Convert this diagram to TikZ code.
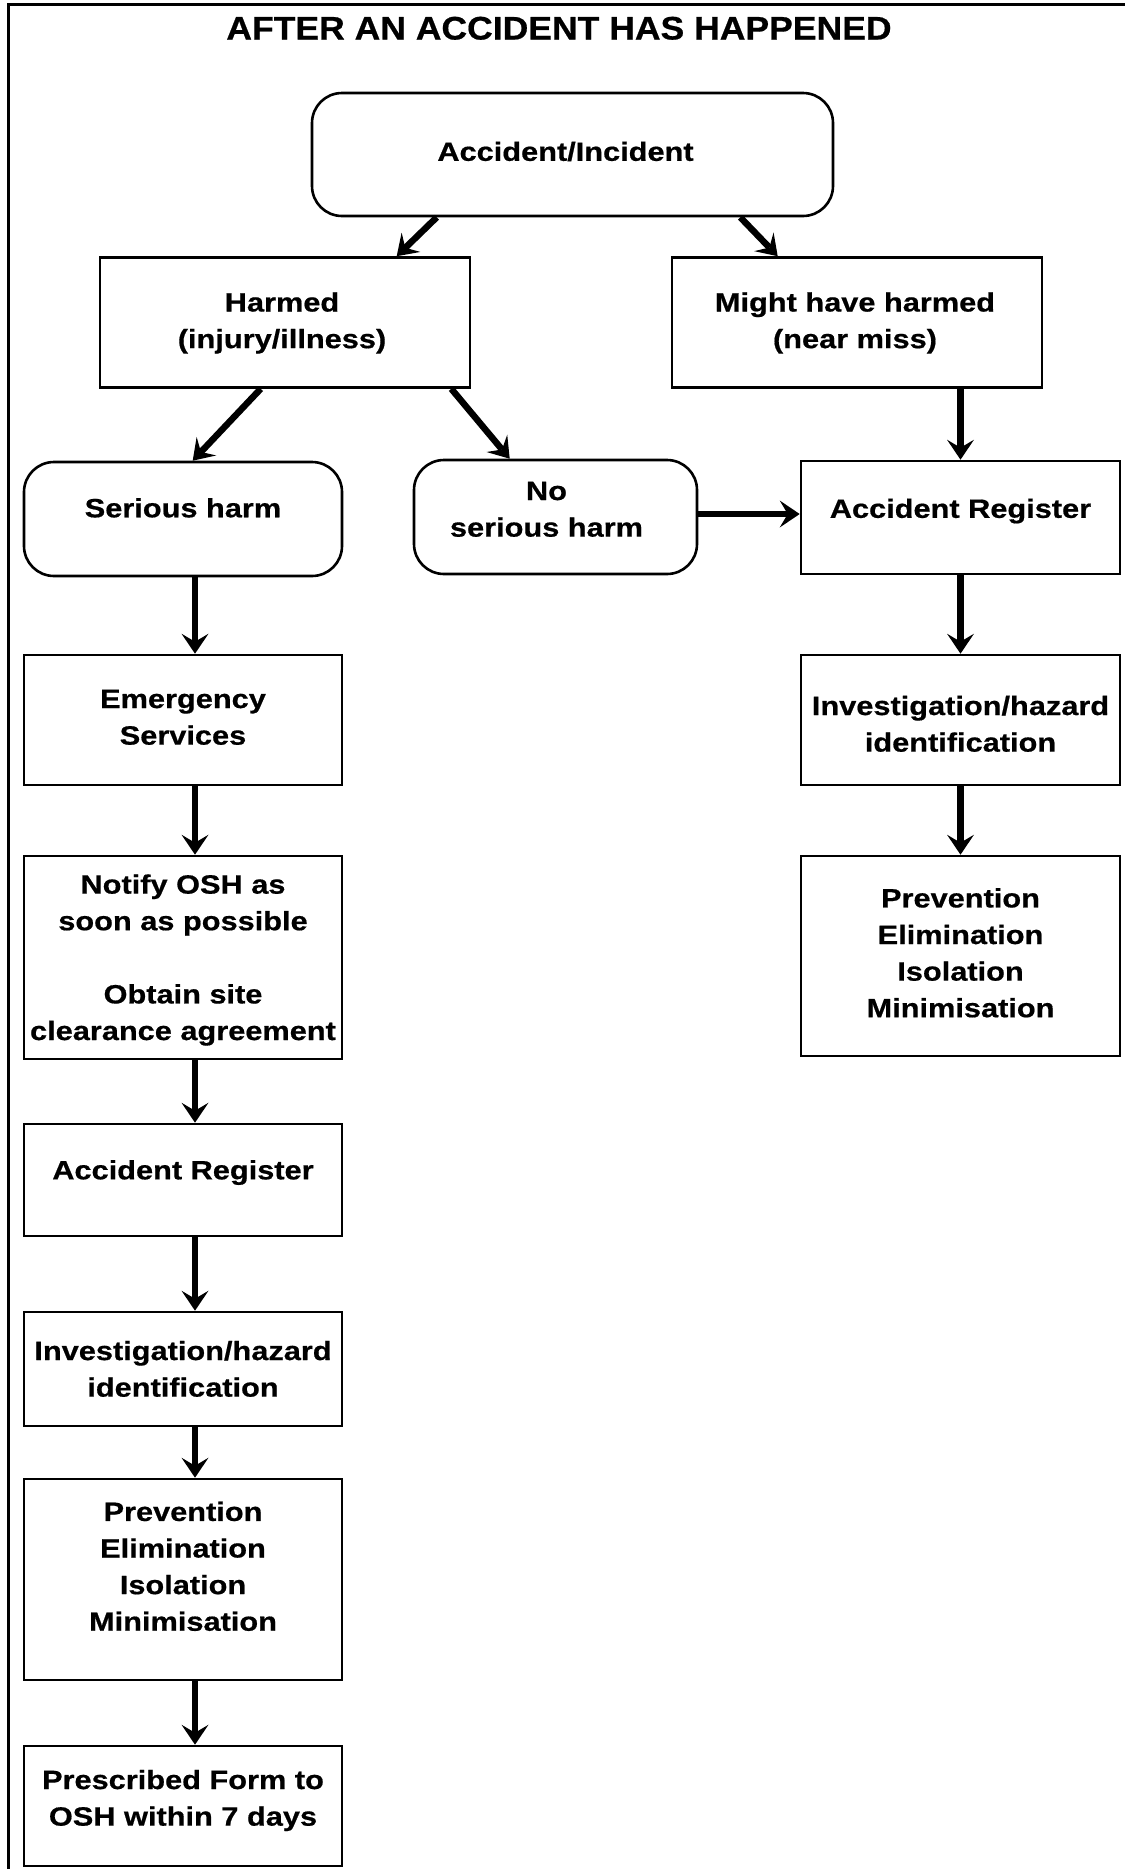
\documentclass[tikz,border=0pt]{standalone}
\usepackage{fontspec}
\setmainfont{Liberation Sans}[FakeStretch=1.16, BoldFeatures={FakeBold=0.6}]
\newfontfamily\titlefont{Liberation Sans}[FakeStretch=1.09, BoldFeatures={FakeBold=0.6}]
\usetikzlibrary{arrows.meta}
\newcommand\bxt[2]{\raisebox{#1}[\height][\depth]{\begin{tabular}{@{}c@{}}#2\end{tabular}}}
\begin{document}
\begin{tikzpicture}[x=1pt,y=-1pt,
  every node/.style={inner sep=0pt, font=\fontsize{26.5}{36.6}\selectfont\bfseries},
  sq/.style={draw, line width=2.6pt, rectangle},
  rnd/.style={draw, line width=2.6pt, rectangle, rounded corners=30pt},
  arr/.style={line width=6.5pt, -{Stealth[length=20pt,width=27pt,inset=8pt,line width=0pt]}},
  frame/.style={line width=3pt},
  title/.style={font=\titlefont\fontsize{32.6}{38}\selectfont\bfseries, anchor=base}
]
\useasboundingbox (0,0) rectangle (1125,1869);
\draw[frame] (8,1869) -- (8,4) -- (1125,4);

\node[title] (ttl) at (559,39.5) {AFTER AN ACCIDENT HAS HAPPENED};

\node[rnd, minimum width=521pt, minimum height=123pt] (acc) at (572.5,154.5) {\hspace*{-14pt}\bxt{1pt}{Accident/Incident}};
\node[sq, minimum width=370pt, minimum height=130pt] (harmed) at (285,322.5) {\hspace*{-6pt}\bxt{0pt}{Harmed\\(injury/illness)}};
\node[sq, minimum width=370pt, minimum height=130pt] (might) at (857,322.5) {\hspace*{-4pt}\bxt{0pt}{Might have harmed\\(near miss)}};
\node[rnd, minimum width=318pt, minimum height=114pt] (serious) at (183,519) {\bxt{9pt}{Serious harm}};
\node[rnd, minimum width=283pt, minimum height=114pt] (noser) at (555.5,517) {\hspace*{-18pt}\bxt{6pt}{No\\serious harm}};
\node[sq, minimum width=319pt, minimum height=113pt] (ar2) at (960.5,517.5) {\bxt{7pt}{Accident Register}};
\node[sq, minimum width=318pt, minimum height=130pt] (emerg) at (183,720) {\bxt{1pt}{Emergency\\Services}};
\node[sq, minimum width=319pt, minimum height=130pt] (inv2) at (960.5,720) {\bxt{-6pt}{Investigation/hazard\\identification}};
\node[sq, minimum width=319pt, minimum height=200pt] (prev2) at (960.5,956) {\bxt{1pt}{Prevention\\Elimination\\Isolation\\Minimisation}};
\node[sq, minimum width=318pt, minimum height=203pt] (notify) at (183,957.5) {\bxt{-2pt}{Notify OSH as\\soon as possible\\ \\Obtain site\\clearance agreement}};
\node[sq, minimum width=318pt, minimum height=112pt] (ar1) at (183,1180) {\bxt{8pt}{Accident Register}};
\node[sq, minimum width=318pt, minimum height=114pt] (inv1) at (183,1369) {\bxt{-2pt}{Investigation/hazard\\identification}};
\node[sq, minimum width=318pt, minimum height=201pt] (prev1) at (183,1579.5) {\bxt{11pt}{Prevention\\Elimination\\Isolation\\Minimisation}};
\node[sq, minimum width=318pt, minimum height=120pt] (presc) at (183,1806) {\bxt{6pt}{Prescribed Form to\\OSH within 7 days}};

\draw[arr] ([xshift=126pt]acc.south west) -- ([xshift=298pt]harmed.north west);
\draw[arr] ([xshift=-94pt]acc.south east) -- ([xshift=107pt]might.north west);
\draw[arr] ([xshift=162pt]harmed.south west) -- ([xshift=170pt]serious.north west);
\draw[arr] ([xshift=-20pt]harmed.south east) -- ([xshift=97pt]noser.north west);
\draw[arr] (might.south -| ar2.north) -- (ar2.north);
\draw[arr] ([yshift=3pt]noser.east) -- ([yshift=3pt]noser.east -| ar2.west);
\draw[arr] (ar2.south) -- (inv2.north);
\draw[arr] (inv2.south) -- (prev2.north);
\draw[arr] ([xshift=12pt]serious.south) -- ([xshift=12pt]emerg.north);
\draw[arr] ([xshift=12pt]emerg.south) -- ([xshift=12pt]notify.north);
\draw[arr] ([xshift=12pt]notify.south) -- ([xshift=12pt]ar1.north);
\draw[arr] ([xshift=12pt]ar1.south) -- ([xshift=12pt]inv1.north);
\draw[arr] ([xshift=12pt]inv1.south) -- ([xshift=12pt]prev1.north);
\draw[arr] ([xshift=12pt]prev1.south) -- ([xshift=12pt]presc.north);
\end{tikzpicture}
\end{document}
